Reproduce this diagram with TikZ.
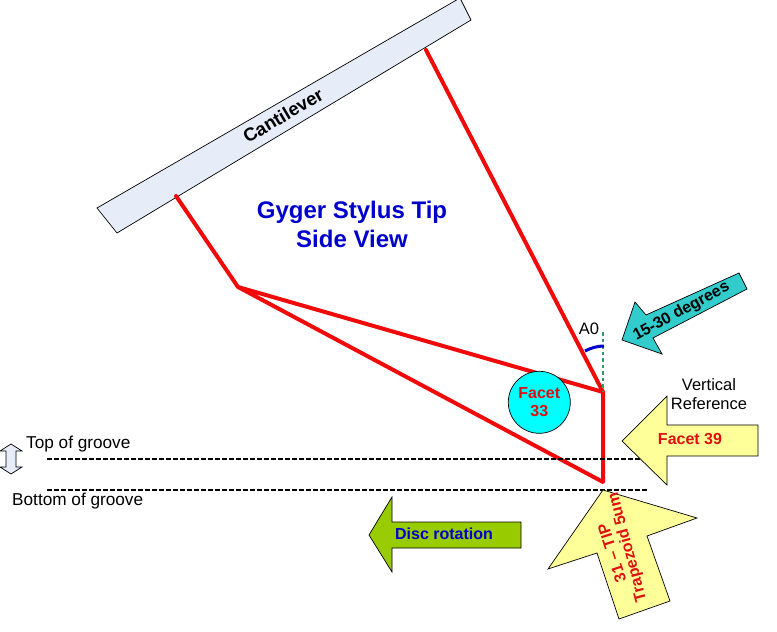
\documentclass[tikz,border=0pt]{standalone}
\usepackage{fontspec}
\setmainfont{Liberation Sans}
\definecolor{redline}{RGB}{240,10,10}
\definecolor{cantfill}{RGB}{230,236,248}
\definecolor{tealfill}{RGB}{51,204,204}
\definecolor{pale}{RGB}{255,255,153}
\definecolor{oliveg}{RGB}{153,204,0}
\definecolor{cyanfill}{RGB}{0,255,255}
\definecolor{deepblue}{RGB}{0,0,204}
\definecolor{dotgreen}{RGB}{51,153,102}
\definecolor{labelred}{RGB}{221,17,17}
\tikzset{
  x=1pt,y=-1pt,
  shapeline/.style={draw=black,line width=0.7pt,line join=miter},
  tipline/.style={draw=redline,line width=4pt,line join=round,line cap=round},
  groove/.style={draw=black,line width=1.5pt,dash pattern=on 4.5pt off 2.5pt},
  lab/.style={inner sep=0pt,font=\fontsize{16.5}{18}\selectfont,text=black},
  groovelab/.style={inner sep=0pt,anchor=west,font=\fontsize{17.2}{18}\selectfont,text=black},
  redlab/.style={inner sep=0pt,font=\fontsize{16}{18}\bfseries\selectfont,text=labelred},
  bluelab/.style={inner sep=0pt,font=\fontsize{16}{18}\bfseries\selectfont,text=deepblue},
}
\begin{document}
\begin{tikzpicture}
\useasboundingbox (0,0) rectangle (777,632);
\fill[white] (0,0) rectangle (777,632);
% cantilever
\begin{scope}
\clip (0,0) rectangle (777,632);
\filldraw[shapeline,fill=cantfill] (97,208) -- (460,-2) -- (471,20) -- (117,233) -- cycle;
\end{scope}
\node[inner sep=0pt,rotate=30.5,font=\fontsize{18.5}{20}\bfseries\selectfont] (cantilever) at (283,115.5) {Cantilever};
% title
\node[inner sep=0pt,align=center,text=deepblue,font=\fontsize{24}{29}\bfseries\selectfont] (title) at (352,224) {Gyger Stylus Tip\\Side View};
% tip outline
\coordinate (c1) at (176,196);
\coordinate (c2) at (426,50);
\coordinate (back) at (238,287);
\coordinate (heel) at (603,392);
\coordinate (point) at (603,482);
\draw[tipline] (c1) -- (back) -- (heel) -- (point) -- (back);
\draw[tipline] (c2) -- (heel);
% angle
\coordinate (v1) at (603,332);
\draw[draw=dotgreen,line width=2.2pt,dash pattern=on 3.5pt off 3pt] (v1) -- (heel);
\coordinate (a1) at (585,351);
\coordinate (a2) at (604,346);
\draw[draw=deepblue,line width=3pt] (a1) .. controls (591,348) and (597,346) .. (a2);
\node[lab] (a0) at (589,329) {A0};
% facet 33
\node[circle,draw=black,line width=0.7pt,fill=cyanfill,minimum size=62pt,inner sep=0pt,align=center,text=labelred,font=\fontsize{16}{18}\bfseries\selectfont] (f33) at (539.3,402.3) {Facet\\33};
% groove
\coordinate (t1) at (47,459);
\coordinate (t2) at (640,459);
\coordinate (b1) at (47,490);
\coordinate (b2) at (648,490);
\draw[groove] (t1) -- (t2);
\draw[groove] (b1) -- (b2);
\node[groovelab] (top) at (26,444) {Top of groove};
\node[groovelab] (bottom) at (12,501) {Bottom of groove};
\filldraw[shapeline,fill=cantfill] (11,444) -- (22,451) -- (16,451) -- (16,467) -- (22,467) -- (11,474) -- (0,467) -- (6,467) -- (6,451) -- (0,451) -- cycle;
% teal arrow
\filldraw[shapeline,fill=tealfill] (622,340) -- (635,302) -- (646,315) -- (739,273) -- (747,289) -- (653,338) -- (662,354) -- cycle;
\node[inner sep=0pt,rotate=28.5,font=\fontsize{16}{18}\bfseries\selectfont] (deg) at (681.5,311.5) {15-30 degrees};
% vertical reference
\node[lab,align=center,font=\fontsize{16.5}{18.5}\selectfont] (vref) at (709,394) {Vertical\\Reference};
% facet 39
\filldraw[shapeline,fill=pale] (622,441) -- (667,396) -- (667,425) -- (758,425) -- (758,456) -- (667,456) -- (667,485) -- cycle;
\node[redlab] (f39) at (690,439) {Facet 39};
% disc rotation
\filldraw[shapeline,fill=oliveg] (369,535) -- (392,497) -- (392,522) -- (521,522) -- (521,548) -- (392,548) -- (392,572) -- cycle;
\node[bluelab] (disc) at (444,534) {Disc rotation};
% tip arrow
\filldraw[shapeline,fill=pale] (603,490) -- (548,569) -- (597,553) -- (619,619) -- (670,601) -- (647,536) -- (697,518) -- cycle;
\node[redlab,rotate=108] (tiplab) at (612,553) {31 -- TIP};
\node[redlab,rotate=105] (trap) at (628,547) {Trapezoid 5um};
\end{tikzpicture}
\end{document}
